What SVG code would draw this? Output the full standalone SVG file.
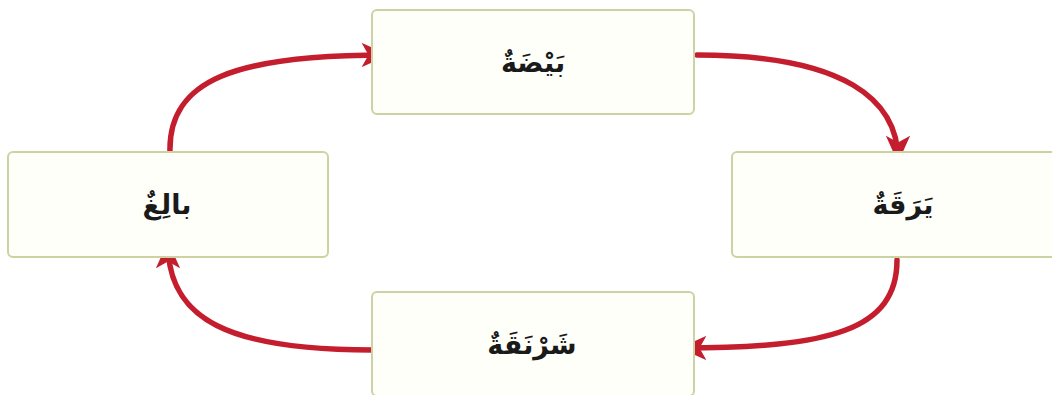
<svg xmlns="http://www.w3.org/2000/svg" width="1052" height="395" viewBox="0 0 1052 395">
<style>
.box{fill:#fffffa;stroke:#cdd2a2;stroke-width:2}
.lbl{font-family:"DejaVu Sans",sans-serif;font-weight:bold;font-size:27px;fill:#1a1a1a;text-anchor:middle}
.arr{fill:none;stroke:#c41e2e;stroke-width:5.5;stroke-linecap:round;marker-end:url(#ah)}
</style>
<defs>
<marker id="ah" viewBox="0 0 20 20" refX="18" refY="10" markerWidth="27" markerHeight="27" markerUnits="userSpaceOnUse" orient="auto">
<path d="M0,1 L20,10 L0,19 L5,10 z" fill="#c41e2e"/>
</marker>
</defs>
<rect width="1052" height="395" fill="#ffffff"/>
<g id="connectors">
<path class="arr" d="M170,152 C168,80 235,55 386,55"/>
<path class="arr" d="M697,55 C845,55 898,100 898,160"/>
<path class="arr" d="M897,260 C897,330 830,348 682,348"/>
<path class="arr" d="M372,350 C230,350 168,320 168,244"/>
</g>
<g id="egg">
<rect class="box" x="372" y="10" width="322" height="104" rx="5"/>
<text class="lbl" x="533" y="72" direction="rtl">بَيْضَةٌ</text>
</g>
<g id="larva">
<rect class="box" x="732" y="152" width="330" height="105" rx="5"/>
<text class="lbl" x="903" y="214" direction="rtl">يَرَقَةٌ</text>
</g>
<g id="pupa">
<rect class="box" x="372" y="292" width="322" height="104" rx="5"/>
<text class="lbl" x="532" y="354" direction="rtl">شَرْنَقَةٌ</text>
</g>
<g id="adult">
<rect class="box" x="8" y="152" width="320" height="105" rx="5"/>
<text class="lbl" x="167" y="214" direction="rtl">بالِغٌ</text>
</g>
</svg>
